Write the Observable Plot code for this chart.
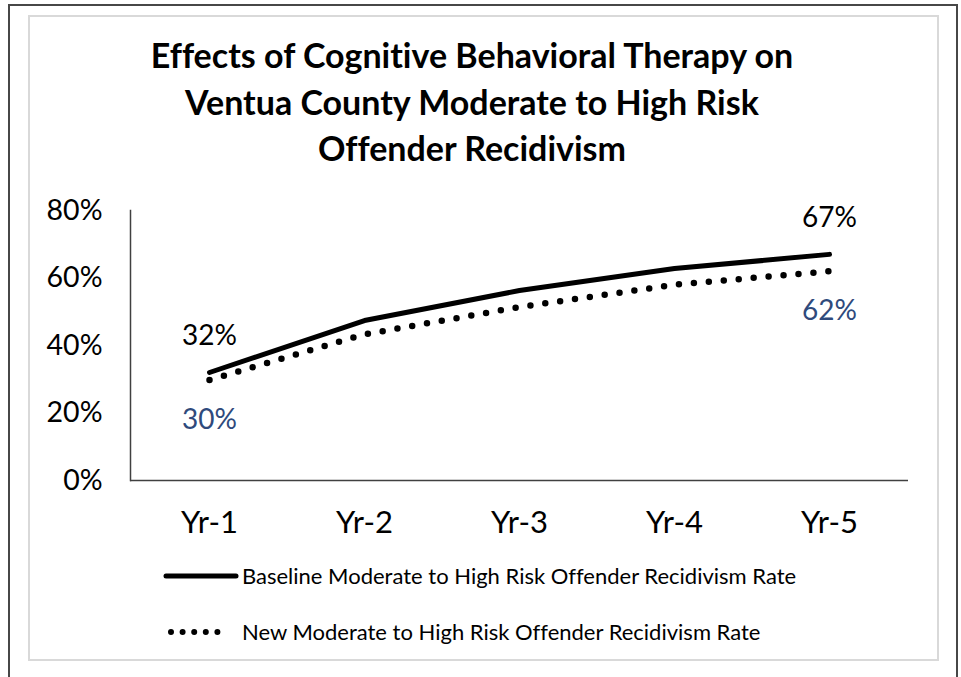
<!DOCTYPE html>
<html>
<head>
<meta charset="utf-8">
<script src="https://cdn.jsdelivr.net/npm/d3@7"></script>
<script src="https://cdn.jsdelivr.net/npm/@observablehq/plot@0.6"></script>
<style>
  html, body { margin: 0; padding: 0; background: #fff; }
  #page { position: relative; width: 961px; height: 677px; overflow: hidden; font-family: Lato, "Open Sans", sans-serif; color: #000; font-variant-ligatures: none; }
  #outer { position: absolute; left: 8px; top: 4px; width: 946px; height: 700px; border: 2px solid #474747; border-bottom: none; }
  #inner { position: absolute; left: 28px; top: 15px; width: 907px; height: 642px; border: 2px solid #d9d9d9; }
  #title { position: absolute; left: 0; width: 944px; top: 32px; text-align: center; font-weight: 700; font-size: 34px; line-height: 46.5px; }
  #chart { position: absolute; left: 0; top: 180px; }
  .leg { position: absolute; left: 163px; display: flex; align-items: center; font-size: 22px; white-space: nowrap; }
  .leg svg { margin-right: 3px; }
</style>
</head>
<body>
<div id="page">
  <div id="outer"></div>
  <div id="inner"></div>
  <div id="title"></div>
  <div id="chart"></div>
  <div id="legend"></div>
</div>
<script>
const titleLines = ["Effects of Cognitive Behavioral Therapy on", "Ventua County Moderate to High Risk", "Offender Recidivism"];
const years = ["Yr-1", "Yr-2", "Yr-3", "Yr-4", "Yr-5"];
const baseline = [0.32, 0.474, 0.563, 0.628, 0.67];
const newRate = [0.298, 0.433, 0.514, 0.58, 0.62];
const yTicks = [0, 0.2, 0.4, 0.6, 0.8];
const seriesNames = ["Baseline Moderate to High Risk Offender Recidivism Rate", "New Moderate to High Risk Offender Recidivism Rate"];

document.getElementById("title").innerHTML = titleLines.join("<br>");

const base = years.map((year, i) => ({year, value: baseline[i]}));
const neu = years.map((year, i) => ({year, value: newRate[i]}));
const ends = (arr) => [arr[0], arr[arr.length - 1]];
const pct = d3.format(".0%");

const chart = Plot.plot({
  width: 961,
  height: 380,
  marginLeft: 130,
  marginRight: 53,
  marginTop: 30,
  marginBottom: 80,
  style: {fontFamily: "Lato, sans-serif", fontSize: "28px", color: "#000", background: "transparent", overflow: "visible"},
  x: {type: "point", domain: years, padding: 0.5, label: null},
  y: {domain: [0, 0.8], label: null},
  marks: [
    Plot.axisY({ticks: yTicks, tickFormat: pct, tickSize: 0, tickPadding: 28, fontSize: 28.5, label: null}),
    Plot.axisX({tickSize: 0, tickPadding: 30, fontSize: 31, label: null}),
    Plot.frame({anchor: "left", stroke: "#404040", strokeWidth: 1.5}),
    Plot.ruleY([0], {stroke: "#404040", strokeWidth: 1.5}),
    Plot.line(neu, {x: "year", y: "value", stroke: "#000", strokeWidth: 6.5, strokeDasharray: "0,15", strokeLinecap: "round"}),
    Plot.line(base, {x: "year", y: "value", stroke: "#000", strokeWidth: 5, strokeLinecap: "round"}),
    Plot.text(ends(base), {x: "year", y: "value", text: d => pct(d.value), dy: -36, fill: "#000", fontSize: 28}),
    Plot.text(ends(neu), {x: "year", y: "value", text: d => pct(d.value), dy: 40, fill: "#2f4a7c", fontSize: 28})
  ]
});
document.getElementById("chart").appendChild(chart);

// legend
const legend = document.getElementById("legend");
const swatches = [
  `<svg width="76" height="10"><line x1="3" y1="5" x2="73" y2="5" stroke="#000" stroke-width="5" stroke-linecap="round"/></svg>`,
  `<svg width="76" height="10"><line x1="8" y1="5" x2="66" y2="5" stroke="#000" stroke-width="6" stroke-dasharray="0,11.6" stroke-linecap="round"/></svg>`
];
const tops = [562, 618];
seriesNames.forEach((name, i) => {
  const row = document.createElement("div");
  row.className = "leg";
  row.style.top = tops[i] + "px";
  row.innerHTML = swatches[i] + `<span>${name}</span>`;
  legend.appendChild(row);
});
</script>
</body>
</html>
